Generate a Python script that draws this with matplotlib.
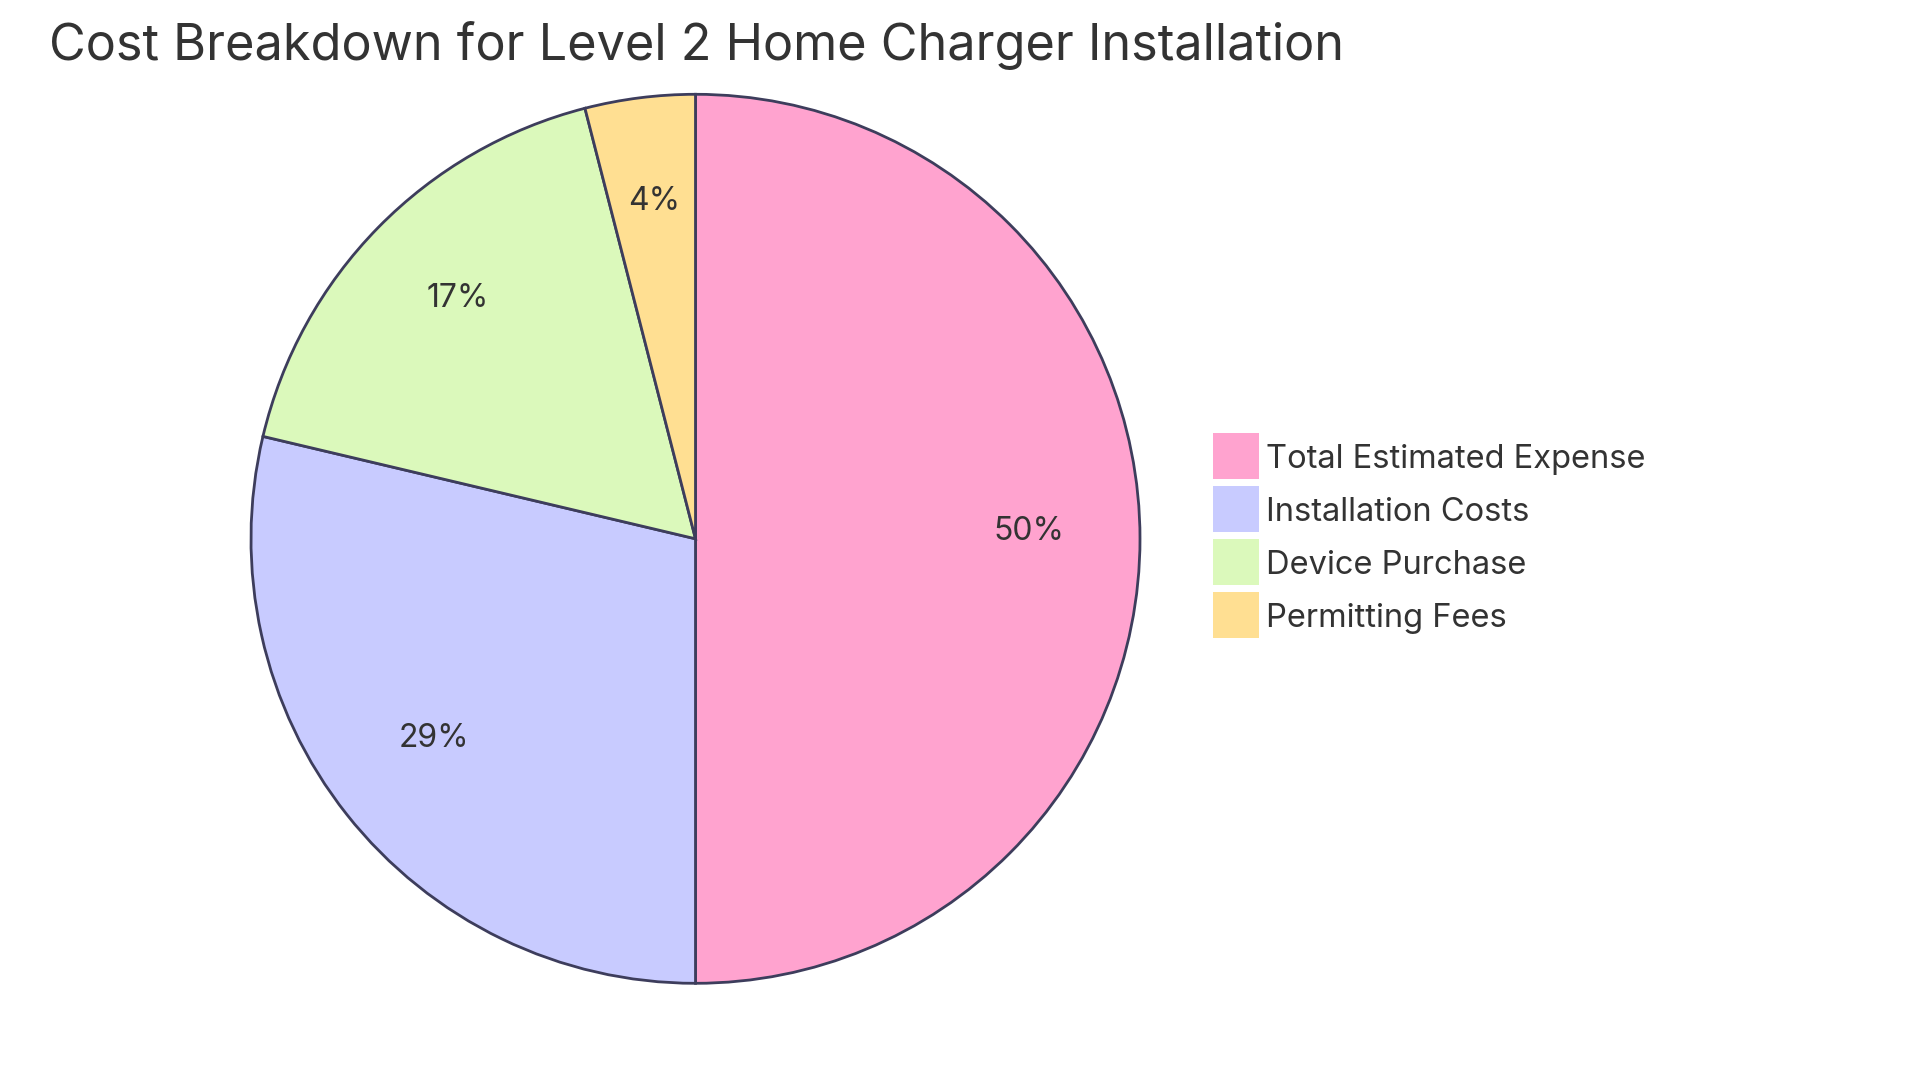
import matplotlib.pyplot as plt
from matplotlib.patches import Rectangle
from matplotlib.transforms import offset_copy

plt.rcParams['font.family'] = ['Inter', 'DejaVu Sans']

# データ（割合 %）
labels = ['Total Estimated Expense', 'Installation Costs', 'Device Purchase', 'Permitting Fees']
values = [50.0, 28.7, 17.3, 4.0]
colors = ['#ffa3cf', '#c8cbff', '#dbf9bb', '#ffdf92']
title = 'Cost Breakdown for Level 2 Home Charger Installation'

W, H = 1920, 1083
fig = plt.figure(figsize=(W / 100, H / 100), dpi=100)

# 円グラフ（中心 695,539 / 半径 444 px）
cx, cy, r = 695.5, 538.8, 444.5
ax = fig.add_axes([(cx - r) / W, (H - cy - r) / H, 2 * r / W, 2 * r / H])
wedges, texts, autotexts = ax.pie(
    values, colors=colors, startangle=90, counterclock=False,
    autopct='%.0f%%', pctdistance=0.75, radius=1,
    wedgeprops=dict(edgecolor='#3d3d5c', linewidth=2),
    textprops=dict(fontsize=23, color='#333333'))
for w in wedges:
    w.set_clip_on(False)
# ラベルを少し上へ
for t in autotexts:
    t.set_transform(offset_copy(ax.transData, fig=fig, x=0, y=7, units='dots'))
ax.set_xlim(-1, 1)
ax.set_ylim(-1, 1)
ax.set_aspect('equal')
ax.axis('off')

# タイトル
fig.text(49 / W, 1 - 60 / H, title, fontsize=36.3, color='#333333',
         ha='left', va='baseline')

# 凡例
sq = 46
for i, (lab, col) in enumerate(zip(labels, colors)):
    top = 433 + i * 53
    fig.patches.append(Rectangle((1213 / W, 1 - (top + sq) / H), sq / W, sq / H,
                                 transform=fig.transFigure, facecolor=col,
                                 edgecolor='none'))
    fig.text(1266 / W, 1 - (top + 35) / H, lab, fontsize=23.5, color='#333333',
             ha='left', va='baseline')

fig.savefig('out.png', dpi=100, facecolor='white')
